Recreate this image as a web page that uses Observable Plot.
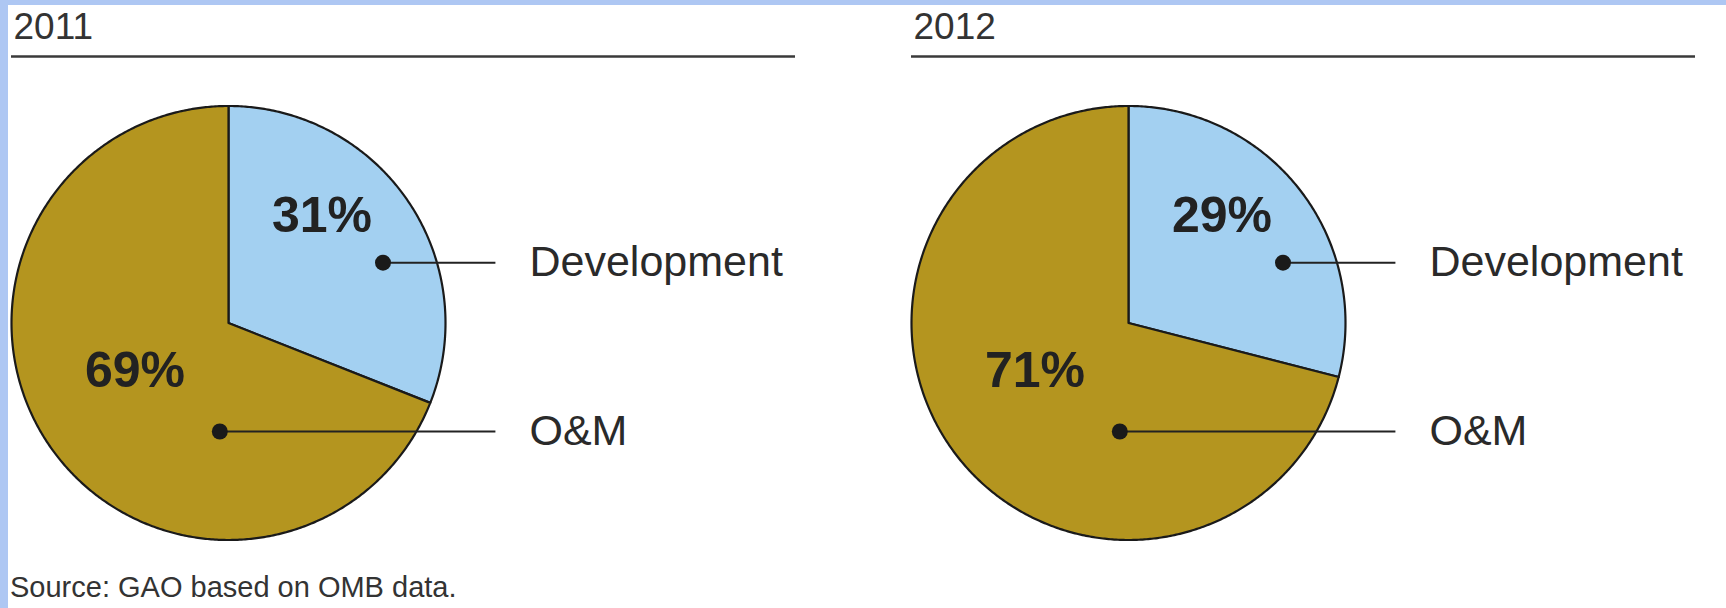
<!DOCTYPE html>
<html>
<head>
<meta charset="utf-8">
<script src="https://cdn.jsdelivr.net/npm/d3@7"></script>
<script src="https://cdn.jsdelivr.net/npm/@observablehq/plot@0.6"></script>
<style>
  html, body { margin: 0; padding: 0; background: #fff; }
  #frame {
    position: absolute; left: 0; top: 0; width: 1726px; height: 608px;
    box-sizing: border-box; border-left: 8px solid #aec7f3; border-top: 5px solid #aec7f3;
    overflow: hidden; background: #fff;
    font-family: "Liberation Sans", Arial, Helvetica, sans-serif;
  }
  #chart { position: absolute; left: 0; top: 0; }
  #caption {
    position: absolute; left: 2px; top: 568px; font-size: 29px; line-height: 29px; color: #333;
  }
</style>
</head>
<body>
<div id="frame">
  <div id="chart"></div>
  <div id="caption">Source: GAO based on OMB data.</div>
</div>
<script>
// ---- data ----
const years = ["2011", "2012"];
const categories = ["Development", "O&M"];
const development = [31, 29];   // percent of IT spending
const om = [69, 71];            // percent of IT spending

// ---- layout (positions in pie-radius units, not data) ----
const pctLabelPos = { "Development": [0.431, 0.494], "O&M": [-0.431, -0.223] };
const calloutPos = { "Development": [0.712, 0.278], "O&M": [-0.040, -0.500] };
const leaderEndX = 1.230;
const labelStartX = 1.387;
const yMax = 1.228, yMin = -1.1175;
const colors = ["#a3d0f1", "#b4951f"];

// ---- build geometry from data ----
const slices = [];
const pctLabels = [];
const callouts = [];
years.forEach((year, i) => {
  const values = [development[i], om[i]];
  const arcs = d3.pie().sort(null)(values);
  arcs.forEach((a, j) => {
    const key = year + "-" + categories[j];
    slices.push({year, key, category: categories[j], x: 0, y: 0});
    const n = Math.max(2, Math.ceil((a.endAngle - a.startAngle) / (Math.PI / 360)));
    for (let k = 0; k <= n; k++) {
      const t = a.startAngle + (a.endAngle - a.startAngle) * k / n;
      slices.push({year, key, category: categories[j], x: Math.sin(t), y: Math.cos(t)});
    }
    slices.push({year, key, category: categories[j], x: 0, y: 0});
    const lp = pctLabelPos[categories[j]];
    pctLabels.push({year, category: categories[j], text: values[j] + "%", x: lp[0], y: lp[1]});
    const cp = calloutPos[categories[j]];
    callouts.push({year, category: categories[j], x: cp[0], y: cp[1]});
  });
});
const yearRows = years.map(year => ({year}));

const chart = Plot.plot({
  width: 1718,
  height: 560,
  marginLeft: 3,
  marginRight: 31,
  marginTop: 51,
  marginBottom: 0,
  style: { fontFamily: "'Liberation Sans', Arial, Helvetica, sans-serif", background: "transparent", overflow: "visible" },
  fx: { domain: years, paddingInner: 116 / 900, paddingOuter: 0, axis: null, label: null },
  x: { domain: [-1, 784 / 217 - 1], axis: null },
  y: { domain: [yMin, yMax], axis: null },
  color: { domain: categories, range: colors },
  facet: { marginTop: 0, marginBottom: 0, marginLeft: 0, marginRight: 0 },
  marks: [
    Plot.ruleY(yearRows, { fx: "year", y: () => yMax, stroke: "#3a3a3a", strokeWidth: 2.5 }),
    Plot.text(yearRows, {
      fx: "year", text: "year", frameAnchor: "top-left", textAnchor: "start",
      lineAnchor: "bottom", dx: 2, dy: -18, fontSize: 37, fill: "#333"
    }),
    Plot.line(slices, {
      fx: "year", x: "x", y: "y", z: "key", fill: "category",
      stroke: "#1a1a1a", strokeWidth: 2.2, strokeLinejoin: "round", curve: "linear"
    }),
    Plot.link(callouts, {
      fx: "year", x1: "x", y1: "y", x2: () => leaderEndX, y2: "y",
      stroke: "#222", strokeWidth: 2
    }),
    Plot.dot(callouts, { fx: "year", x: "x", y: "y", r: 8, fill: "#1a1a1a", stroke: "none" }),
    Plot.text(callouts, {
      fx: "year", x: () => labelStartX, y: "y", text: "category", textAnchor: "start",
      lineAnchor: "middle", fontSize: 43, fill: "#2a2a2a"
    }),
    Plot.text(pctLabels, {
      fx: "year", x: "x", y: "y", text: "text", textAnchor: "middle",
      lineAnchor: "middle", fontSize: 50, fontWeight: "bold", fill: "#222"
    })
  ]
});
document.getElementById("chart").appendChild(chart);
</script>
</body>
</html>
